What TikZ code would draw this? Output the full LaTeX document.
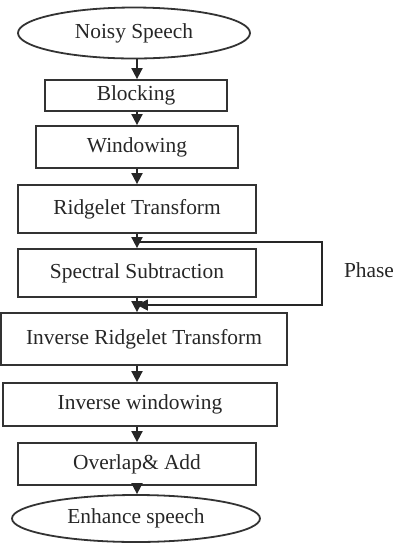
\documentclass[tikz,border=0pt]{standalone}
\usepackage{fontspec}
\setmainfont{Liberation Serif}
\usetikzlibrary{shapes.geometric,arrows.meta,calc}
\begin{document}
\begin{tikzpicture}[x=0.5pt,y=-0.5pt,
  every node/.style={font=\fontsize{10.7pt}{12pt}\selectfont, text=black!85},
  blk/.style={draw=black!80, line width=0.9pt, rectangle, inner sep=0pt},
  term/.style={draw=black!80, line width=0.9pt, ellipse, inner sep=0pt},
  flow/.style={draw=black!85, line width=0.9pt, -{Triangle[length=5.5pt,width=5.5pt]}}]
  \useasboundingbox (0,0) rectangle (403,543);
  \coordinate (axis) at (137,0);
  \coordinate (rail) at (322,0);

  % processing chain
  \node[term, minimum width=116pt, minimum height=25.5pt] (noisy) at (134,33) {Noisy Speech};
  \node[blk, minimum width=91pt,  minimum height=15.5pt] (blocking) at (136,95.5) {Blocking};
  \node[blk, minimum width=101pt, minimum height=21pt]   (window)   at (137,147) {Windowing};
  \node[blk, minimum width=119pt, minimum height=24pt]   (rt)       at (137,209) {Ridgelet Transform};
  \node[blk, minimum width=119pt, minimum height=24pt]   (ss)       at (137,273) {Spectral Subtraction};
  \node[blk, minimum width=143pt, minimum height=26pt]   (irt)      at (144,339) {Inverse Ridgelet Transform};
  \node[blk, minimum width=137pt, minimum height=21.5pt] (iwin)     at (140,404.5) {Inverse windowing};
  \node[blk, minimum width=119pt, minimum height=21pt]   (ola)      at (137,464) {Overlap\& Add};
  \node[term, minimum width=124pt, minimum height=23.5pt] (enh)     at (136,518.5) {Enhance speech};
  \node (phase) at (369,270) {Phase};

  % main arrows
  \draw[flow] (noisy.south -| axis) -- (blocking.north -| axis);
  \draw[flow] (blocking.south -| axis) -- (window.north -| axis);
  \draw[flow] (window.south -| axis) -- (rt.north -| axis);
  \draw[flow] (rt.south -| axis) -- (ss.north -| axis);
  \draw[flow] (ss.south -| axis) -- (irt.north -| axis);
  \draw[flow] (irt.south -| axis) -- (iwin.north -| axis);
  \draw[flow] (iwin.south -| axis) -- (ola.north -| axis);
  \draw[flow] (ola.south -| axis) -- (enh.north -| axis);

  % phase bypass around spectral subtraction
  \coordinate (split) at ($(rt.south -| axis)!0.55!(ss.north -| axis)$);
  \coordinate (merge) at ($(ss.south -| axis)!0.5!(irt.north -| axis)$);
  \draw[flow] (split) -- (rail |- split) |- (merge);
\end{tikzpicture}
\end{document}
